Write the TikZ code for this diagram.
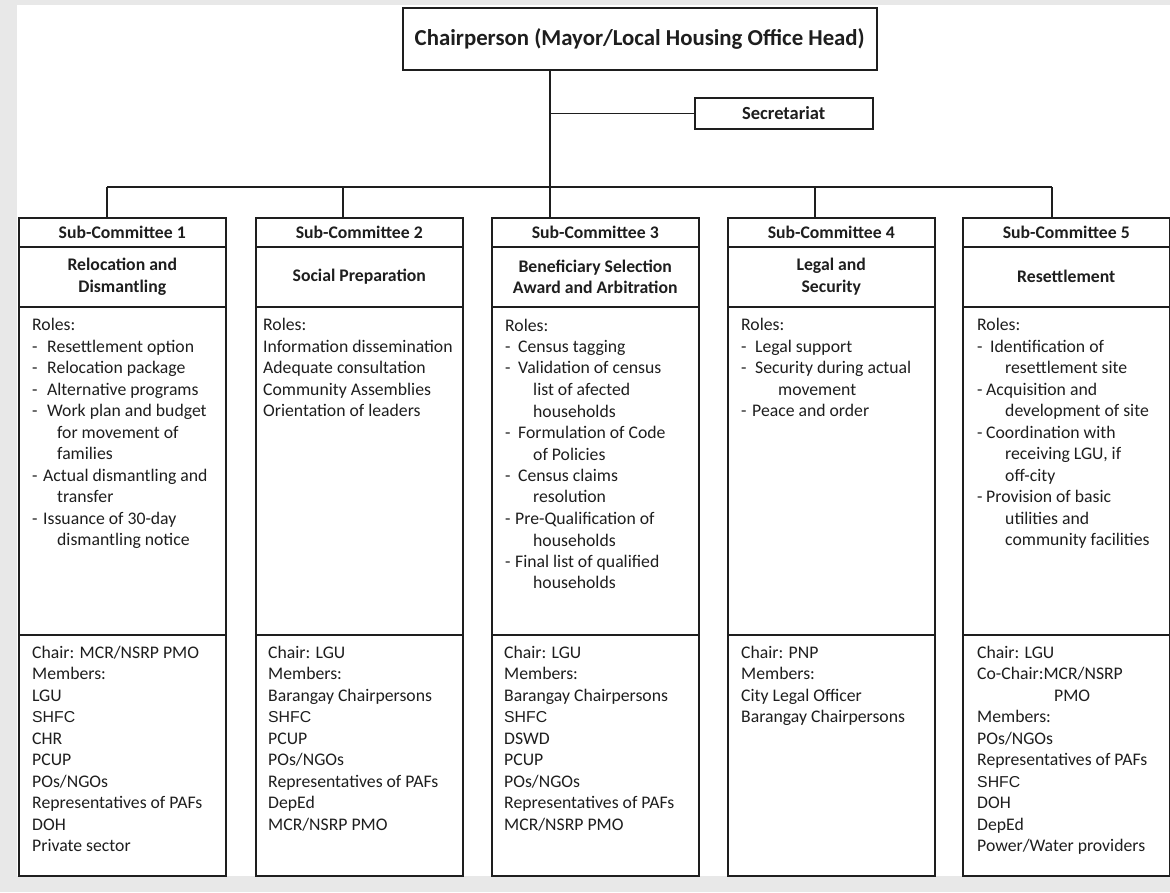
\documentclass[tikz,border=0pt]{standalone}
\usepackage{fontspec}
\setmainfont{Carlito}
\newfontfamily\arialf{Liberation Sans}
\usetikzlibrary{calc}
\definecolor{frame}{HTML}{E8E8E8}
\definecolor{ink}{HTML}{1E1E1E}
\newcommand{\itm}[2]{\makebox[#1pt][l]{-}#2}
\newcommand{\cnt}[2]{\hspace*{#1pt}#2}
\newcommand{\shfc}{{\arialf\fontsize{15.8}{21.5}\selectfont SHFC}}
\tikzset{
  box/.style={draw=ink, line width=1.5pt, rectangle, inner sep=0pt, anchor=north west},
  hdr/.style={box, minimum width=207pt, minimum height=29pt, text=ink,
    font=\bfseries\fontsize{17.7}{21}\selectfont},
  ttl/.style={box, minimum width=207pt, minimum height=60pt, align=center, text=ink,
    font=\bfseries\fontsize{17.7}{21.5}\selectfont},
  rolebox/.style={box, minimum width=207pt, minimum height=328pt},
  membox/.style={box, minimum width=207pt, minimum height=241pt},
  body/.style={anchor=north west, inner sep=0pt, align=left, text=ink,
    font=\fontsize{17.7}{21.5}\selectfont},
  link/.style={draw=ink, line width=1.5pt},
}
\begin{document}
\begin{tikzpicture}[x=1pt,y=-1pt]
% page and frame
\fill[frame] (0,0) rectangle (1170,892);
\fill[white] (17,5) rectangle (1170,876);
\useasboundingbox (0,0) rectangle (1170,892);

% top level
\node[box, minimum width=474pt, minimum height=62pt, text=ink,
  font=\bfseries\fontsize{22.8}{27}\selectfont] (chair) at (402,7)
  {Chairperson (Mayor/Local Housing Office Head)};
\node[box, minimum width=178pt, minimum height=31pt, text=ink,
  font=\bfseries\fontsize{18.5}{22}\selectfont] (sec) at (694,97) {Secretariat};

% sub-committee columns
\foreach \n/\x in {1/18, 2/255, 3/491, 4/727, 5/962}{
  \node[hdr] (h\n) at (\x,217) {Sub-Committee \n};
  \node[rolebox] (r\n) at (\x,306) {};
  \node[membox] (m\n) at (\x,634) {};
}
\node[ttl] (t1) at (18,246) {Relocation and\\Dismantling};
\node[ttl] (t2) at (255,246) {Social Preparation};
\node[ttl] (t3) at (491,246) {Beneficiary Selection\\Award and Arbitration};
\node[ttl] (t4) at (727,246) {Legal and\\Security};
\node[ttl] (t5) at (962,246) {Resettlement};

% connectors
\coordinate (b1) at (107,187);
\coordinate (b2) at (343,187);
\coordinate (b3) at (550,187);
\coordinate (b4) at (815,187);
\coordinate (b5) at (1052,187);
\draw[link] (chair.south -| b3) -- (b3);
\draw[link] (sec.west -| b3) -- (sec.west);
\draw[link] (b1) -- (b5);
\foreach \n in {1,...,5}{
  \draw[link] (b\n) -- (b\n |- h\n.north);
}

% roles
\node[body] (rt1) at ($(r1.north west)+(14,12.5)$) {Roles:\\
  \itm{15}{Resettlement option}\\
  \itm{15}{Relocation package}\\
  \itm{15}{Alternative programs}\\
  \itm{15}{Work plan and budget}\\
  \cnt{25}{for movement of}\\
  \cnt{25}{families}\\
  \itm{11}{Actual dismantling and}\\
  \cnt{25}{transfer}\\
  \itm{11}{Issuance of 30-day}\\
  \cnt{25}{dismantling notice}};
\node[body] (rt2) at ($(r2.north west)+(8,12.5)$) {Roles:\\
  Information dissemination\\
  Adequate consultation\\
  Community Assemblies\\
  Orientation of leaders};
\node[body] (rt3) at ($(r3.north west)+(14,12.5)$) {Roles:\\
  \itm{13}{Census tagging}\\
  \itm{13}{Validation of census}\\
  \cnt{28}{list of afected}\\
  \cnt{28}{households}\\
  \itm{13}{Formulation of Code}\\
  \cnt{28}{of Policies}\\
  \itm{13}{Census claims}\\
  \cnt{28}{resolution}\\
  \itm{10}{Pre-Qualification of}\\
  \cnt{28}{households}\\
  \itm{10}{Final list of qualified}\\
  \cnt{28}{households}};
\node[body] (rt4) at ($(r4.north west)+(14,12.5)$) {Roles:\\
  \itm{14}{Legal support}\\
  \itm{14}{Security during actual}\\
  \cnt{37}{movement}\\
  \itm{11}{Peace and order}};
\node[body] (rt5) at ($(r5.north west)+(15,12.5)$) {Roles:\\
  \itm{13}{Identification of}\\
  \cnt{28}{resettlement site}\\
  \itm{9}{Acquisition and}\\
  \cnt{28}{development of site}\\
  \itm{9}{Coordination with}\\
  \cnt{28}{receiving LGU, if}\\
  \cnt{28}{off-city}\\
  \itm{9}{Provision of basic}\\
  \cnt{28}{utilities and}\\
  \cnt{28}{community facilities}};

% members
\node[body] (mt1) at ($(m1.north west)+(14,11.5)$) {Chair: MCR/NSRP PMO\\
  Members:\\ LGU\\ \shfc\\ CHR\\ PCUP\\ POs/NGOs\\
  Representatives of PAFs\\ DOH\\ Private sector};
\node[body] (mt2) at ($(m2.north west)+(13,11.5)$) {Chair: LGU\\
  Members:\\ Barangay Chairpersons\\ \shfc\\ PCUP\\ POs/NGOs\\
  Representatives of PAFs\\ DepEd\\ MCR/NSRP PMO};
\node[body] (mt3) at ($(m3.north west)+(13,11.5)$) {Chair: LGU\\
  Members:\\ Barangay Chairpersons\\ \shfc\\ DSWD\\ PCUP\\ POs/NGOs\\
  Representatives of PAFs\\ MCR/NSRP PMO};
\node[body] (mt4) at ($(m4.north west)+(14,11.5)$) {Chair: PNP\\
  Members:\\ City Legal Officer\\ Barangay Chairpersons};
\node[body] (mt5) at ($(m5.north west)+(15,11.5)$) {Chair: LGU\\
  Co-Chair:MCR/NSRP\\ \cnt{77}{PMO}\\ Members:\\ POs/NGOs\\
  Representatives of PAFs\\ \shfc\\ DOH\\ DepEd\\ Power/Water providers};
\end{tikzpicture}
\end{document}
